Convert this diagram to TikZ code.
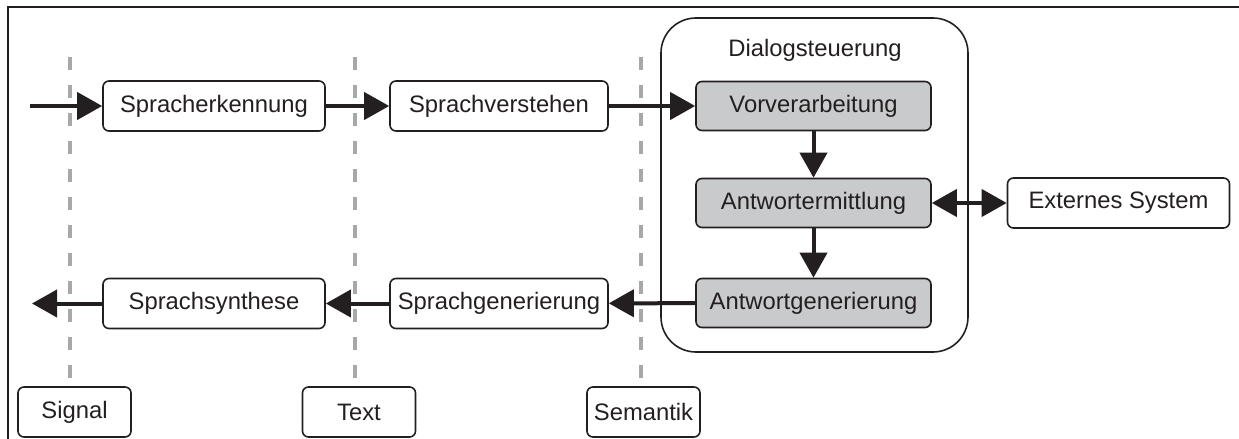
\documentclass[tikz,border=0pt]{standalone}
\usepackage{fontspec}
\setmainfont{Liberation Sans}
\usetikzlibrary{arrows.meta}
\definecolor{boxgray}{RGB}{201,202,204}
\definecolor{layergray}{RGB}{168,168,168}
\definecolor{ink}{RGB}{35,31,32}
\begin{document}
\begin{tikzpicture}[x=0.5pt,y=-0.5pt,
  font=\fontsize{11.9pt}{14pt}\selectfont,
  box/.style={draw=ink,line width=0.8pt,rounded corners=3pt,fill=white,
    text=ink,inner sep=0pt,minimum height=25pt},
  procbox/.style={box,minimum width=111pt},
  graybox/.style={box,fill=boxgray,minimum width=117.5pt,minimum height=24.5pt},
  layerbox/.style={box,minimum width=56.5pt},
  tip/.style={Triangle[length=12.5pt,width=13.5pt]},
  flow/.style={draw=ink,line width=2pt,-{Triangle[length=12.5pt,width=13.5pt]}},
  layerline/.style={draw=layergray,line width=2pt,dash pattern=on 6.5pt off 7.5pt}]
\useasboundingbox (0,0) rectangle (1239,439);
% frame
\draw[ink,line width=1.3pt] (1239,7) -- (8,7) -- (8,439);
% layer boundaries
\draw[layerline] (70,57) -- (70,380);
\draw[layerline] (355,57) -- (355,380);
\draw[layerline] (641,57) -- (641,380);
% dialogue management container
\node[draw=ink,line width=0.8pt,rounded corners=17.5pt,minimum width=153.5pt,
  minimum height=167pt,inner sep=0pt] (dlg) at (814.5,185) {};
\node[text=ink] (dlgtitle) at (815,50) {Dialogsteuerung};
% processing stages
\node[procbox] (erk) at (214,106) {Spracherkennung};
\node[procbox,minimum width=109pt] (vst) at (499,106) {Sprachverstehen};
\node[graybox] (vor) at (813.5,106) {Vorverarbeitung};
\node[graybox] (erm) at (813.5,203) {Antwortermittlung};
\node[graybox] (gen) at (813.5,303) {Antwortgenerierung};
\node[procbox] (ext) at (1118.5,203) {Externes System};
\node[procbox] (syn) at (214,303.5) {Sprachsynthese};
\node[procbox,minimum width=109pt] (sgen) at (499,303.5) {Sprachgenerierung};
% layer labels
\node[layerbox] (sig) at (74.5,412) {Signal};
\node[layerbox] (txt) at (359,412) {Text};
\node[layerbox] (sem) at (643.5,412) {Semantik};
% connectors
\coordinate (in) at (30,106);
\coordinate (out) at (32,303.5);
\draw[flow] (in) -- (erk);
\draw[flow] (erk) -- (vst);
\draw[flow] (vst) -- (vor);
\draw[flow] (vor) -- (erm);
\draw[flow] (erm) -- (gen);
\draw[flow,{Triangle[length=12.5pt,width=13.5pt]}-{Triangle[length=12.5pt,width=13.5pt]}] (erm) -- (ext);
\draw[flow] (gen) -- (sgen);
\draw[flow] (sgen) -- (syn);
\draw[flow] (syn) -- (out);
\end{tikzpicture}
\end{document}
